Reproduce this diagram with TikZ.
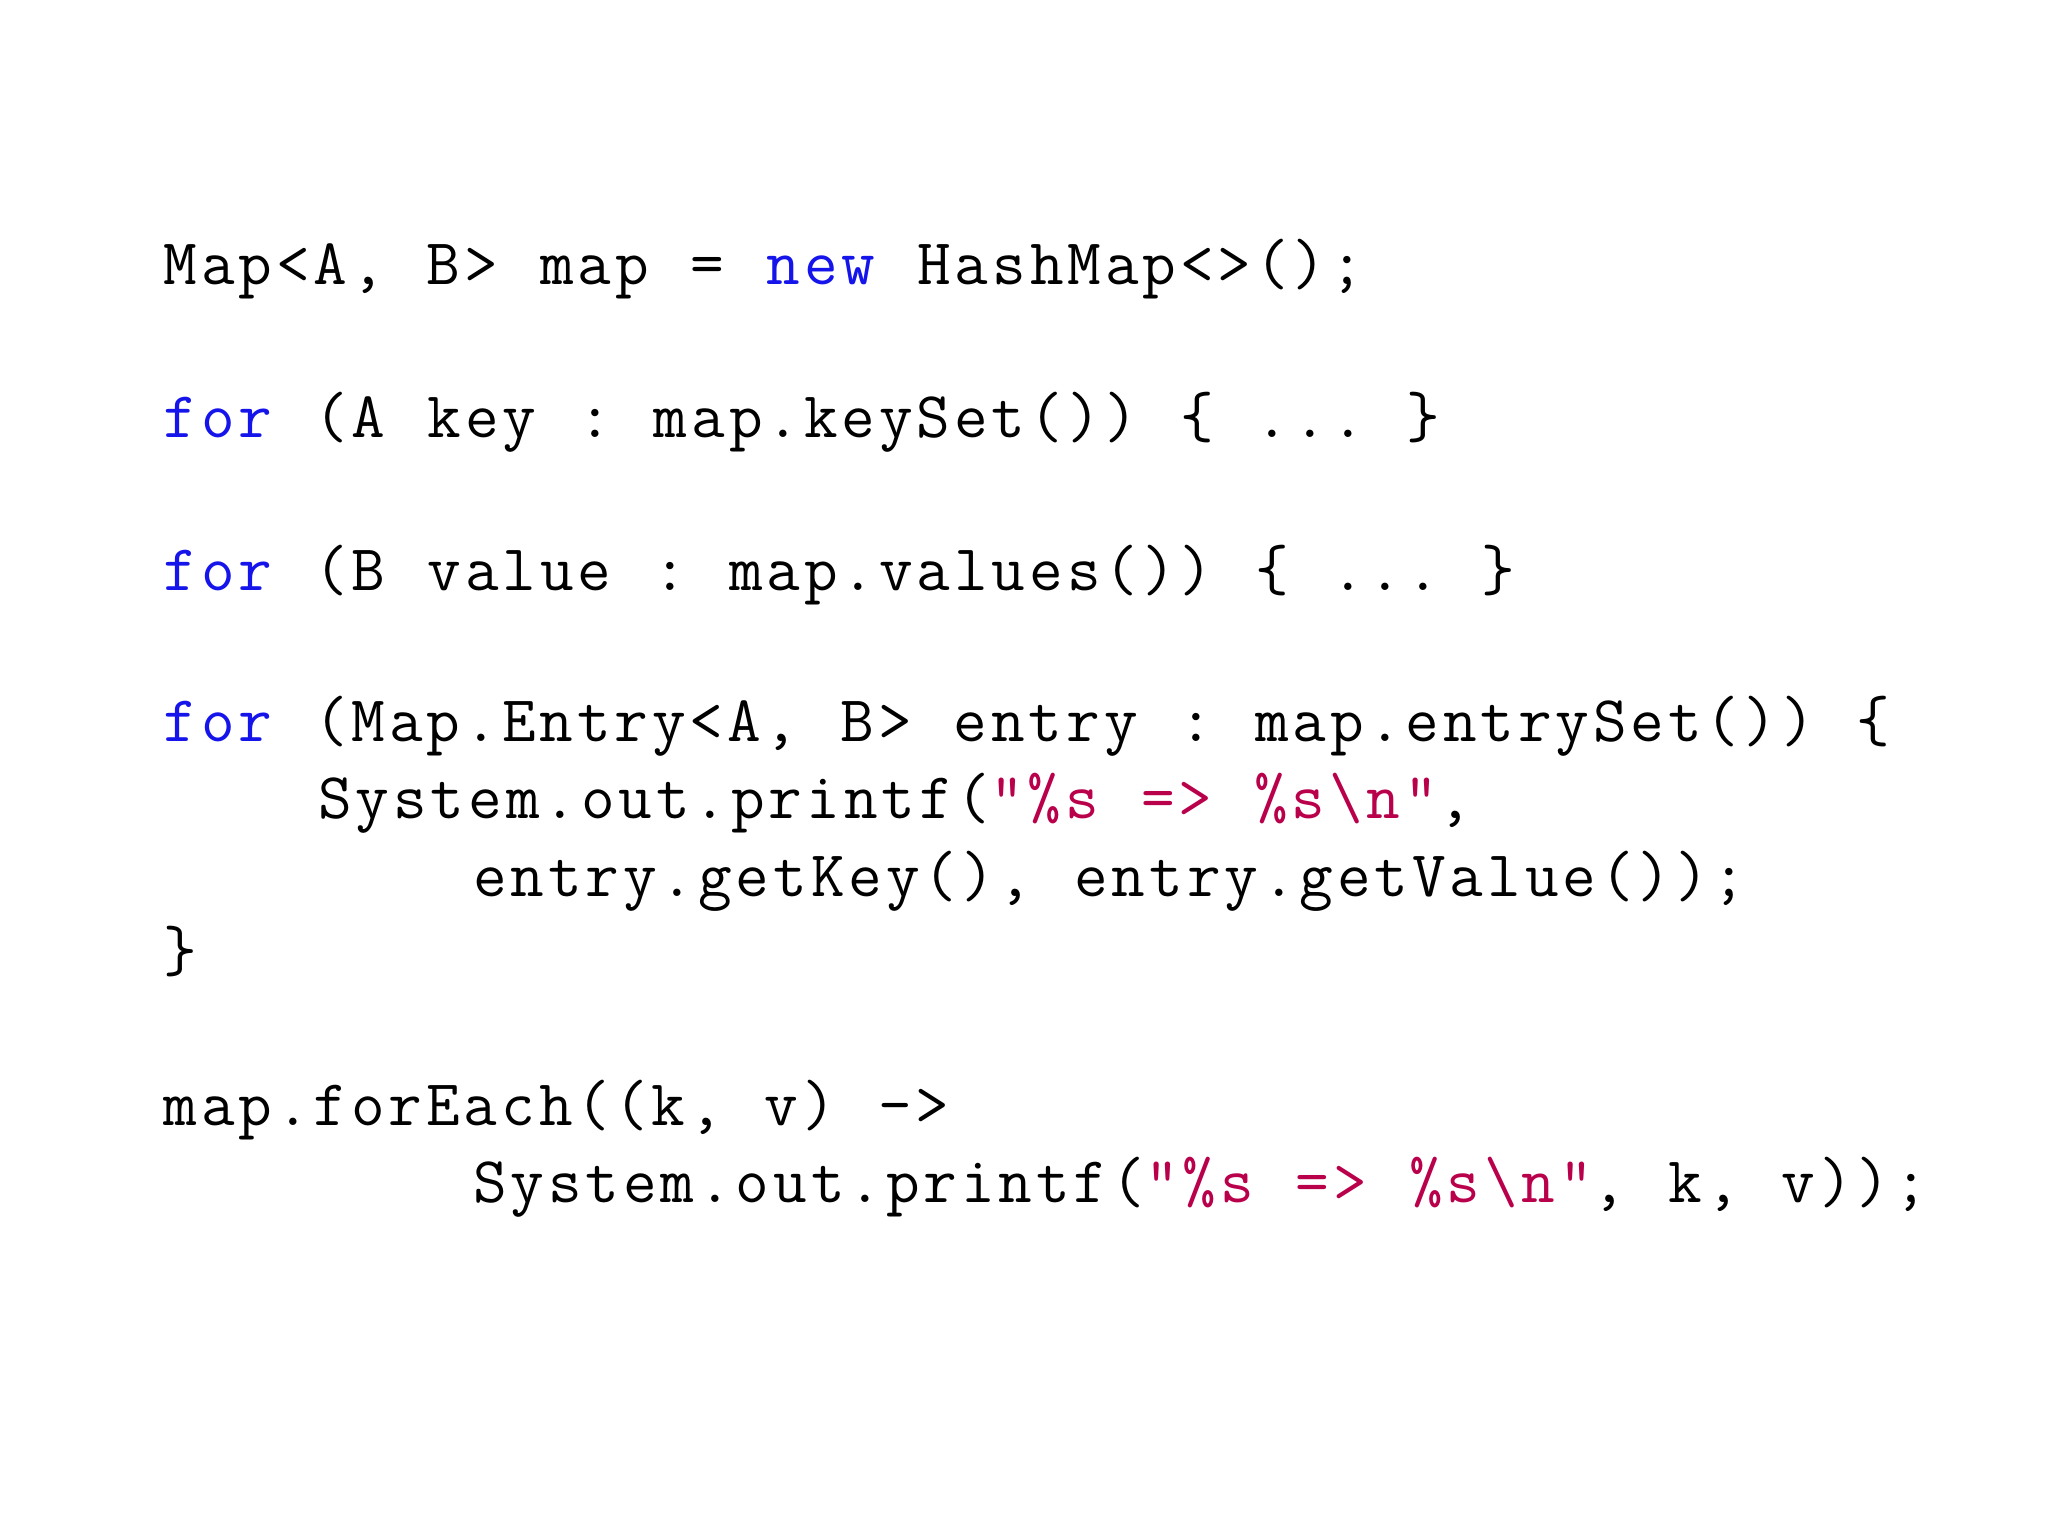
\documentclass[tikz,border=0pt]{standalone}
\usepackage{fontspec}
\setmonofont[LetterSpace=6.0,WordSpace=1.12]{Latin Modern Mono}
\definecolor{kw}{RGB}{20,20,235}
\definecolor{str}{RGB}{185,0,75}
\newcommand{\kw}[1]{\textcolor{kw}{#1}}
\newcommand{\st}[1]{\textcolor{str}{#1}}
\begin{document}
\begin{tikzpicture}[x=1pt,y=1pt,code/.style={anchor=base west,inner sep=0pt,font=\fontsize{50}{50}\ttfamily}]
\useasboundingbox (0,0) rectangle (1568,-1176);
\node[code] (l1) at (125,-218) {Map<A, B> map = \kw{new} HashMap<>();};
\node[code] (l2) at (125,-335) {\kw{for} (A key : map.keySet()) \{ ... \}};
\node[code] (l3) at (125,-452) {\kw{for} (B value : map.values()) \{ ... \}};
\node[code] (l4) at (125,-568) {\kw{for} (Map.Entry<A, B> entry : map.entrySet()) \{};
\node[code] (l5) at (243.5,-627) {System.out.printf(\st{"\%s => \%s\textbackslash n"},};
\node[code] (l6) at (362,-686) {entry.getKey(), entry.getValue());};
\node[code] (l7) at (125,-744) {\}};
\node[code] (l8) at (125,-862) {map.forEach((k, v) ->};
\node[code] (l9) at (362,-921) {System.out.printf(\st{"\%s => \%s\textbackslash n"}, k, v));};
\end{tikzpicture}
\end{document}
